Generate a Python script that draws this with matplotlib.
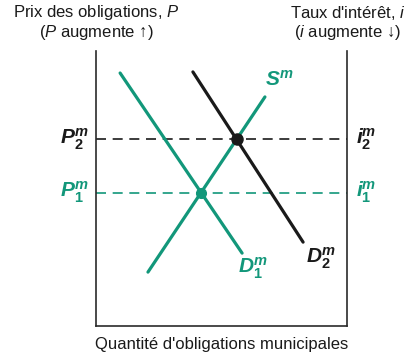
import numpy as np
import matplotlib.pyplot as plt

plt.rcParams['font.family'] = ['Liberation Sans', 'DejaVu Sans']
plt.rcParams['mathtext.fontset'] = 'custom'
plt.rcParams['mathtext.rm'] = 'Liberation Sans'
plt.rcParams['mathtext.it'] = 'Liberation Sans:italic'
plt.rcParams['mathtext.bf'] = 'Liberation Sans:bold'
plt.rcParams['mathtext.bfit'] = 'Liberation Sans:bold:italic'

GREEN = "#12977a"
DARK = "#1a1a1a"

# curve endpoints (arbitrary units, axes run 0..10)
d1_x = [0.96, 5.82]
d1_y = [9.20, 2.65]
d2_x = [3.86, 8.25]
d2_y = [9.24, 3.05]
s_x = [2.07, 6.73]
s_y = [1.96, 8.33]


def cross(ax_, ay_, bx_, by_):
    p1, p2 = np.array([ax_[0], ay_[0]]), np.array([ax_[1], ay_[1]])
    q1, q2 = np.array([bx_[0], by_[0]]), np.array([bx_[1], by_[1]])
    r, s = p2 - p1, q2 - q1
    t = np.cross(q1 - p1, s) / np.cross(r, s)
    return p1 + t * r


e1 = cross(d1_x, d1_y, s_x, s_y)
e2 = cross(d2_x, d2_y, s_x, s_y)

fig = plt.figure(figsize=(4.14, 3.53), dpi=100)
fig.patch.set_facecolor("white")
ax = fig.add_axes([0.2319, 0.0765, 0.6063, 0.779])
ax.set_xlim(0, 10)
ax.set_ylim(0, 10)
ax.set_xticks([])
ax.set_yticks([])
ax.spines["top"].set_visible(False)
for sp in ("left", "right", "bottom"):
    ax.spines[sp].set_linewidth(1.2)
    ax.spines[sp].set_color("#2a2a2a")

# price levels
ax.axhline(e2[1], color=DARK, lw=1.2, dashes=(6, 4), zorder=1)
ax.axhline(e1[1], color=GREEN, lw=1.2, dashes=(6, 4), zorder=1)

ax.plot(d1_x, d1_y, color=GREEN, lw=2.3, solid_capstyle="round", zorder=2)
ax.plot(s_x, s_y, color=GREEN, lw=2.3, solid_capstyle="round", zorder=2)
ax.plot(d2_x, d2_y, color=DARK, lw=2.3, solid_capstyle="round", zorder=3)

ax.plot(e1[0], e1[1], "o", color=GREEN, ms=7, zorder=4)
ax.plot(e2[0], e2[1], "o", color=DARK, ms=8, zorder=4)

LBL = 15
# curve labels
ax.text(7.3, 8.95, r"$\mathbfit{S}^{\mathbfit{m}}$", color=GREEN, fontsize=LBL, ha="center", va="center")
ax.text(6.25, 2.1, r"$\mathbfit{D}^{\mathbfit{m}}_{\mathbf{1}}$", color=GREEN, fontsize=LBL, ha="center", va="center")
ax.text(8.95, 2.45, r"$\mathbfit{D}^{\mathbfit{m}}_{\mathbf{2}}$", color=DARK, fontsize=LBL, ha="center", va="center")

# left / right level labels
ax.text(-0.3, e2[1], r"$\mathbfit{P}^{\mathbfit{m}}_{\mathbf{2}}$", color=DARK, fontsize=LBL,
        ha="right", va="center", clip_on=False)
ax.text(-0.3, e1[1], r"$\mathbfit{P}^{\mathbfit{m}}_{\mathbf{1}}$", color=GREEN, fontsize=LBL,
        ha="right", va="center", clip_on=False)
ax.text(10.35, e2[1], r"$\mathbfit{i}^{\mathbfit{m}}_{\mathbf{2}}$", color=DARK, fontsize=LBL,
        ha="left", va="center", clip_on=False)
ax.text(10.35, e1[1], r"$\mathbfit{i}^{\mathbfit{m}}_{\mathbf{1}}$", color=GREEN, fontsize=LBL,
        ha="left", va="center", clip_on=False)

# axis titles
TS = 12
fig.text(96 / 414, 1 - 13 / 353, "Prix des obligations, $\\mathit{P}$", color=DARK,
         fontsize=TS, ha="center", va="center")
fig.text(96 / 414, 1 - 33 / 353, "($\\mathit{P}$ augmente ↑)", color=DARK,
         fontsize=TS, ha="center", va="center")
fig.text(348 / 414, 1 - 13 / 353, "Taux d'intérêt, $\\mathit{i}$", color=DARK,
         fontsize=TS, ha="center", va="center")
fig.text(348 / 414, 1 - 33 / 353, "($\\mathit{i}$ augmente ↓)", color=DARK,
         fontsize=TS, ha="center", va="center")
fig.text(222 / 414, 1 - 345 / 353, "Quantité d'obligations municipales", color=DARK,
         fontsize=TS, ha="center", va="center")

fig.savefig("out.png", dpi=100, facecolor="white")
